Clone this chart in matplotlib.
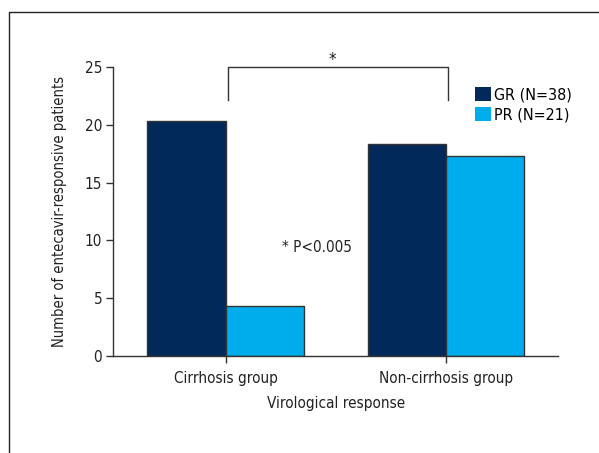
#!/usr/bin/env python3
# -*- coding: utf-8 -*-

import matplotlib
matplotlib.use('Agg')
import matplotlib.pyplot as plt
import numpy as np
from matplotlib.lines import Line2D
from matplotlib.patches import Patch

groups = ['Cirrhosis group', 'Non-cirrhosis group']
gr_counts = [20.3, 18.3]
pr_counts = [4.3, 17.3]
series_labels = ['GR (N=38)', 'PR (N=21)']
yticks = [0, 5, 10, 15, 20, 25]

GR_COLOR = '#012a5b'
PR_COLOR = '#00adec'
EDGE = '#333333'

plt.rcParams['font.family'] = ['DejaVu Sans']
plt.rcParams['font.stretch'] = 'condensed'
plt.rcParams['font.size'] = 11

W, H = 599, 453
fig = plt.figure(figsize=(W / 100, H / 100), dpi=100)
ax = fig.add_axes([113.3 / W, 1 - 356 / H, (558 - 113.3) / W, (356 - 67) / H])

x = np.arange(len(groups))
width = 0.355
ax.bar(x - width / 2, gr_counts, width, color=GR_COLOR, edgecolor=EDGE, linewidth=1, label=series_labels[0])
ax.bar(x + width / 2, pr_counts, width, color=PR_COLOR, edgecolor=EDGE, linewidth=1, label=series_labels[1])

ax.set_xlim(-0.51, 1.51)
ax.set_ylim(0, 25)
ax.set_yticks(yticks)
ax.set_xticks(x)
ax.set_xticklabels(groups)
for side in ['top', 'right']:
    ax.spines[side].set_visible(False)
for side in ['left', 'bottom']:
    ax.spines[side].set_color(EDGE)
    ax.spines[side].set_linewidth(1)
ax.tick_params(axis='both', colors=EDGE, length=5, width=1, labelcolor='#222222')
ax.tick_params(axis='x', pad=6)
ax.tick_params(axis='y', pad=3)

ax.set_ylabel('Number of entecavir-responsive patients', color='#222222', labelpad=13, fontsize=10.5)
ax.set_xlabel('Virological response', color='#222222', labelpad=7)

# significance bracket between the two groups
bx = [0.012, 0.012, 1.012, 1.012]
by = [22.15, 25, 25, 22.15]
ax.plot(bx, by, color=EDGE, linewidth=1, clip_on=False)
ax.text(0.483, 25.6, '*', ha='center', va='center', fontsize=12, color='#222222')
ax.text(0.255, 9.4, '* P<0.005', ha='left', va='center', color='#222222')

handles = [Patch(facecolor=GR_COLOR, edgecolor='none'), Patch(facecolor=PR_COLOR, edgecolor='none')]
fig.legend(handles, series_labels, loc='upper left', bbox_to_anchor=(467 / W, 1 - 79 / H),
           frameon=False, borderpad=0, handlelength=1.0, handleheight=0.97,
           handletextpad=0.18, labelspacing=0.28, fontsize=11.5)

# outer frame (partly cut off by the image edges)
fig.add_artist(Line2D([8.5 / W, 8.5 / W, 1.0], [0.0, 1 - 12 / H, 1 - 12 / H],
                      transform=fig.transFigure, color='#222222', linewidth=1))

fig.savefig('out.png', dpi=100)
